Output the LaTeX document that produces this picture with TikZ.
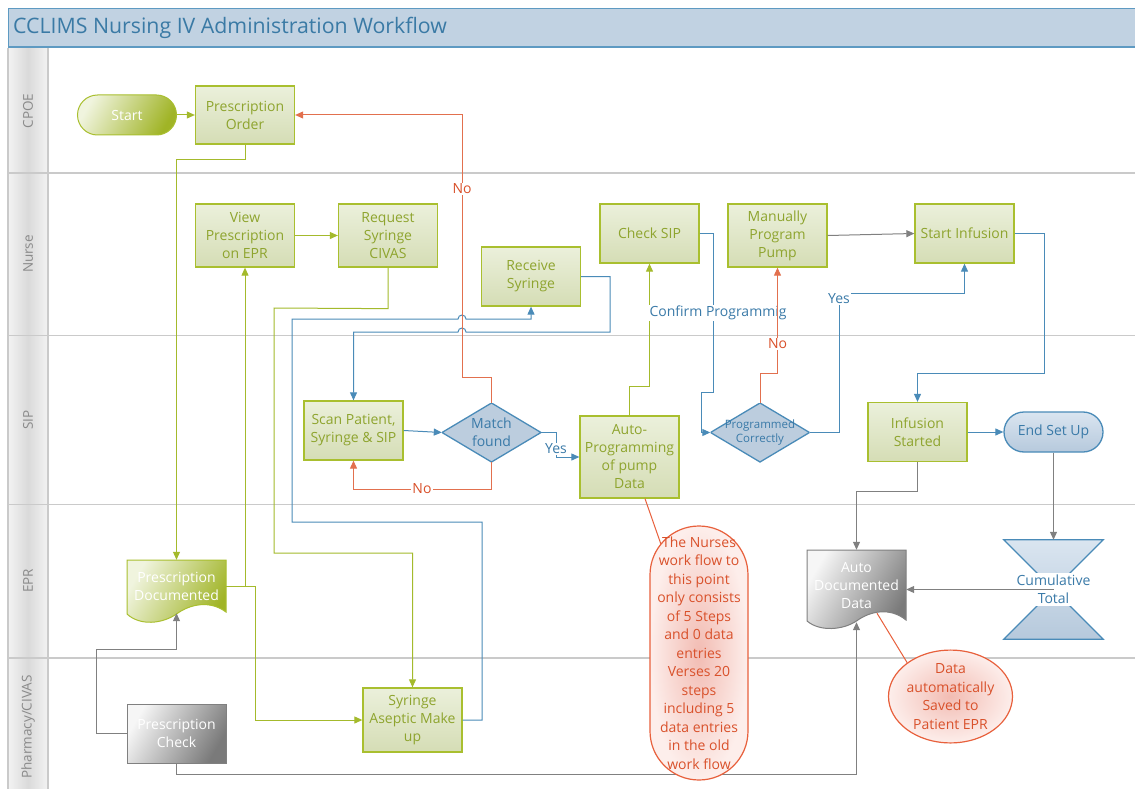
\documentclass[tikz,border=0pt]{standalone}
\usepackage{fontspec}
\setmainfont{Open Sans}
\usetikzlibrary{arrows.meta,shapes.geometric,calc}
\definecolor{gborder}{HTML}{A9BF2F}
\definecolor{gtext}{HTML}{8EA42E}
\definecolor{gtop}{HTML}{EBF0DB}
\definecolor{gbot}{HTML}{D5DDB5}
\definecolor{gline}{HTML}{A4BA2C}
\definecolor{gdark}{HTML}{A0B426}
\definecolor{glight}{HTML}{F0F4DE}
\definecolor{bline}{HTML}{4A8BB8}
\definecolor{btext}{HTML}{3A7AA8}
\definecolor{bfill}{HTML}{BCCDDE}
\definecolor{btop}{HTML}{DAE5F0}
\definecolor{bbot}{HTML}{B6C9DC}
\definecolor{rline}{HTML}{E2704E}
\definecolor{glinegray}{HTML}{808080}
\definecolor{graylight}{HTML}{F6F6F6}
\definecolor{graydark}{HTML}{7A7A7A}
\definecolor{lanegray}{HTML}{CACACA}
\definecolor{lanel}{HTML}{F3F3F3}
\definecolor{lanem}{HTML}{DADADA}
\definecolor{lanetext}{HTML}{8A8A8A}
\definecolor{titlefill}{HTML}{C1D2E2}
\definecolor{titleline}{HTML}{5E9AC2}
\definecolor{titletext}{HTML}{3A7AA5}
\definecolor{cin}{HTML}{F2BCB3}
\definecolor{cout}{HTML}{FDEEEB}
\definecolor{cborder}{HTML}{E8603C}
\definecolor{ctext}{HTML}{D9512B}
\begin{document}
\begin{tikzpicture}[x=1pt,y=-1pt,
  >={Triangle[length=8pt,width=7pt]},
  txt/.style={font=\fontsize{14}{18}\selectfont},
  gbox/.style={txt, draw=gborder, line width=1.3pt, top color=gtop, bottom color=gbot,
    text=gtext, minimum width=99pt, minimum height=59pt, align=center, inner sep=1pt},
  term/.style={txt, rounded corners=20pt, minimum width=99pt, minimum height=40pt, inner sep=1pt},
  dia/.style={minimum width=99pt, minimum height=59pt, inner sep=0pt, align=center, text=btext,
    path picture={\draw[draw=bline, line width=1.3pt, fill=bfill]
      (path picture bounding box.west) -- (path picture bounding box.north) --
      (path picture bounding box.east) -- (path picture bounding box.south) -- cycle;}},
  gconn/.style={draw=gline, line width=1pt, ->},
  bconn/.style={draw=bline, line width=1pt, ->},
  rconn/.style={draw=rline, line width=1pt, ->},
  kconn/.style={draw=glinegray, line width=1pt, ->},
  lbl/.style={txt, fill=white, inner sep=1pt},
  callout/.style={txt, draw=cborder, line width=1.2pt, inner color=cin, outer color=cout,
    text=ctext, align=center, inner sep=0pt}
]
\useasboundingbox (0,0) rectangle (1135,789);
\fill[white] (0,0) rectangle (1135,789);

% lane header cells
\foreach \a/\b in {48/173,173/335.5,335.5/504.5,504.5/658,658/789}
  \shade[left color=lanel, right color=lanel, middle color=lanem] (8,\a) rectangle (48,\b);
\foreach \yy in {173,335.5,504.5,658}
  \draw[lanegray, line width=1.5pt] (8,\yy) -- (1135,\yy);
\draw[lanegray, line width=1.5pt] (48,48) -- (48,789);
\draw[lanegray, line width=1.5pt] (8,48) -- (8,789);

% title bar
\fill[titlefill] (8,8) rectangle (1135,48);
\draw[titleline, line width=0.8pt] (8,48) -- (8,8.4) -- (1135,8.4);
\draw[titleline, line width=2pt] (8,47) -- (1135,47);
\node[anchor=west, text=titletext, font=\fontsize{21.3}{24}\selectfont, inner sep=0pt] (title) at (13,28)
  {CCLIMS Nursing IV Administration Workflow};

% lane labels
\begin{scope}[every node/.style={rotate=90, text=lanetext, font=\fontsize{13.5}{15}\selectfont}]
\node (lcpoe) at (28,111) {CPOE};
\node (lnurse) at (28,254) {Nurse};
\node (lsip) at (28,420) {SIP};
\node (lepr) at (28,581) {EPR};
\node (lpharm) at (28,727) {Pharmacy/CIVAS};
\end{scope}

% ---------- shapes ----------
\node[term, draw=gborder, line width=1pt, left color=glight, right color=gdark, shading angle=60, text=white]
  (start) at (127,115) {Start};
\node[gbox, minimum height=58pt] (po) at (245,115) {Prescription\\Order};
\node[gbox, minimum height=63pt] (vp) at (245,235.5) {View\\Prescription\\on EPR};
\node[gbox, minimum height=63pt] (rs) at (388,235.5) {Request\\Syringe\\CIVAS};
\node[gbox] (recv) at (531,276.5) {Receive\\Syringe};
\node[gbox] (cs) at (649.5,233.5) {Check SIP};
\node[gbox, minimum height=63pt] (mpp) at (777.5,235.5) {Manually\\Program\\Pump};
\node[gbox] (si) at (964.5,233.5) {Start Infusion};
\node[gbox] (scan) at (353.5,430.5) {Scan Patient,\\Syringe \& SIP};
\node[dia, txt] (mf) at (491.5,432.5) {Match\\found};
\node[gbox, minimum height=82pt] (ap) at (629.5,457) {Auto-\\Programming\\of pump\\Data};
\node[dia, font=\fontsize{11.5}{14}\selectfont] (pcd) at (760,432.5) {Programmed\\Correctly};
\node[gbox] (is) at (917.5,432) {Infusion\\Started};
\node[term, draw=bline, line width=1.3pt, top color=btop, bottom color=bbot, text=btext]
  (end) at (1053.5,432) {End Set Up};

% Prescription Documented (document shape)
\path[draw=gborder, line width=1pt, left color=glight, right color=gdark, shading angle=60]
  (127,560) -- (226,560) -- (226,612)
  .. controls (210,600) and (190,604) .. (176.5,614)
  .. controls (162,624) and (140,626) .. (127,614) -- cycle;
\node[txt, text=white, align=center, minimum width=99pt, minimum height=53pt, inner sep=0pt]
  (pd) at (176.5,586.5) {Prescription\\Documented};

% Prescription Check
\node[gbox, draw=glinegray, line width=1pt, left color=graylight, right color=graydark, shading angle=60, text=white]
  (pc2) at (176.5,733.5) {Prescription\\Check};
% Syringe Aseptic Make up
\node[gbox, minimum height=64pt] (sam) at (412.5,720) {Syringe\\Aseptic Make\\up};

% Auto Documented Data (document shape)
\path[draw=glinegray, line width=1pt, left color=graylight, right color=graydark, shading angle=60]
  (807,550) -- (906,550) -- (906,620)
  .. controls (890,607) and (870,611) .. (856.5,621)
  .. controls (843,630) and (820,632) .. (807,621) -- cycle;
\node[txt, text=white, align=center, minimum width=99pt, minimum height=72pt, inner sep=0pt]
  (ad) at (856.5,586) {Auto\\Documented\\Data};

% Cumulative Total (collate shape)
\node[minimum width=99pt, minimum height=99pt, inner sep=0pt] (ct) at (1053.5,589.5) {};
\path[draw=bline, line width=1.2pt, top color=btop, bottom color=bbot]
  (ct.north west) -- (ct.north east) -- (ct.south west) -- (ct.south east) -- cycle;
\node[txt, fill=white, text=btext, align=center, inner sep=2pt] (ctt) at (ct.center) {Cumulative\\Total};

% ---------- connectors ----------
% green
\draw[gconn] (start.east) -- (po.west);
\draw[gconn] (po.south) -- ++(0,15) -| (pd.north);
\draw[gconn] (pd.east) -| (vp.south);
\draw[gconn] (pd.east) -- ++(29,0) |- (sam.west);
\draw[gconn] (vp.east) -- (rs.west);
\draw[gconn] (rs.south) -- ++(0,41) -- (274,308) -- (274,553) -| (sam.north);
\draw[gconn] (ap.north) -- ++(0,-29) -| (cs.south);

% blue
\draw[bconn] (sam.east) -- (482,720) -- (482,522) -- (292,522) -- (292,319) -- (458,319)
  arc[start angle=180, end angle=0, radius=4pt] -| (recv.south);
\draw[bconn] (recv.east) -- (610,276.5) -- (610,332) -- (466,332)
  arc[start angle=0, end angle=180, radius=4pt] -| (scan.north);
\draw[bconn] (scan.east) -- (mf.west);
\draw[bconn] (mf.east) -- (556,432.5) -- (556,457) -- (ap.west);
\node[lbl, text=btext] (lyes1) at (556,449) {Yes};
\draw[bconn] (cs.east) -- (713,233.5) -- (713,392) -- (701,392) |- (pcd.west);
\node[lbl, text=btext] (lconf) at (718,313) {Confirm Programmig};
\draw[bconn] (pcd.east) -- (839,432.5) -- (839,293) -| (si.south);
\node[lbl, text=btext] (lyes2) at (839,299) {Yes};
\draw[bconn] (si.east) -- (1044,233.5) -- (1044,373) -| (is.north);
\draw[bconn] (is.east) -- (end.west);

% red
\draw[rconn] (mf.south) -- (491.5,489) -| (scan.south);
\node[lbl, text=ctext] (lno1) at (422,489) {No};
\draw[rconn] (mf.north) -- (491.5,377) -- (462,377) |- (po.east);
\node[lbl, text=ctext] (lno2) at (462,189) {No};
\draw[rconn] (pcd.north) -- (760,373) -| (mpp.south);
\node[lbl, text=ctext] (lno3) at (777.5,344) {No};

% gray
\draw[kconn] (mpp.east) -- (si.west);
\draw[kconn] (is.south) -- ++(0,29) -| (ad.north);
\draw[kconn] (end.south) -- (ct.north);
\draw[kconn] (ct.center) -- (ct.center -| ad.east);
\draw[kconn] (pc2.west) -- ++(-30,0) -- ++(0,-84.5) -| (pd.south);
\draw[kconn] (pc2.south) -- ++(0,11) -| (ad.south);

% ---------- callouts ----------
\draw[cborder, line width=1pt] (ap.south) ++(15.5,0) -- (699,653);
\node[callout, rounded corners=49pt, minimum width=98pt, minimum height=254pt,
  font=\fontsize{14}{18.5}\selectfont] (c1) at (699,653)
  {The Nurses\\work flow to\\this point\\only consists\\of 5 Steps\\and 0 data\\entries\\Verses 20\\steps\\including 5\\data entries\\in the old\\work flow};
\node[callout, ellipse, minimum width=109pt, minimum height=89pt,
  font=\fontsize{14}{18.5}\selectfont] (c2) at (950.5,696.5)
  {Data\\automatically\\Saved to\\Patient EPR};
\draw[cborder, line width=1pt] (ad.south) ++(20.5,-9) -- (c2.142);
\end{tikzpicture}
\end{document}
